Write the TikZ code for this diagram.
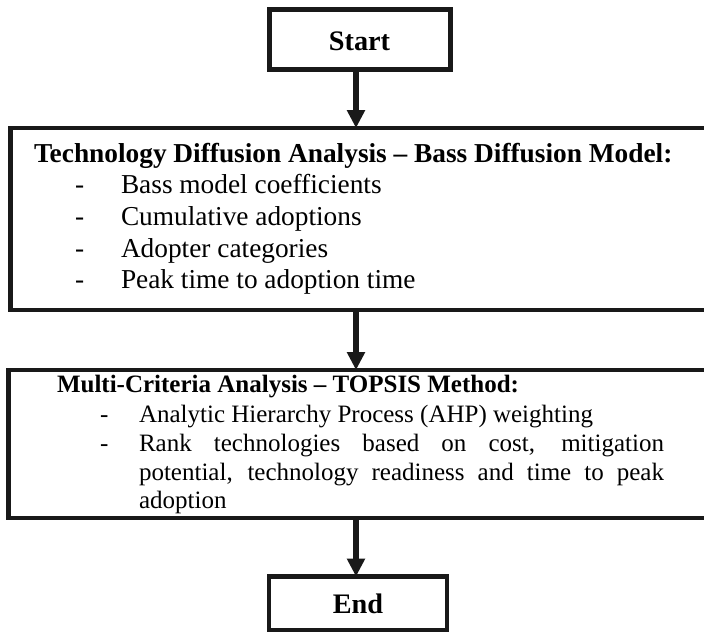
\documentclass[tikz,border=0pt]{standalone}
\usepackage{fontspec}
\setmainfont{Liberation Serif}
\usetikzlibrary{arrows.meta}
\tikzset{
  boxline/.style={draw=black!90, line width=3.6pt, inner sep=0pt, outer sep=0pt, fill=white},
  arr/.style={draw=black!90, line width=4.2pt, -{Triangle[length=13.5pt,width=13pt]}},
  txt/.style={anchor=base west, inner sep=0pt, outer sep=0pt},
  big/.style={txt, font=\fontsize{20.5}{24}\selectfont},
  bigb/.style={txt, font=\fontsize{20.5}{24}\selectfont\bfseries},
  small/.style={txt, font=\fontsize{18.75}{22}\selectfont},
  smallb/.style={txt, font=\fontsize{18.75}{22}\selectfont\bfseries},
  termtxt/.style={anchor=base, inner sep=0pt, font=\fontsize{21.2}{25}\selectfont\bfseries}
}
\begin{document}
\begin{tikzpicture}[x=0.75pt,y=-0.75pt]
\useasboundingbox (0,0) rectangle (704,633);
\clip (0,0) rectangle (704,633);
% boxes
\node[boxline, anchor=north west, minimum width=181*0.75pt, minimum height=60*0.75pt] (start) at (269.5,9.5) {};
\node[boxline, anchor=north west, minimum width=720*0.75pt, minimum height=182*0.75pt] (b1) at (10.5,128) {};
\node[boxline, anchor=north west, minimum width=720*0.75pt, minimum height=148*0.75pt] (b2) at (8.5,370) {};
\node[boxline, anchor=north west, minimum width=178*0.75pt, minimum height=53.5*0.75pt] (end) at (269,576.5) {};
% arrow axis
\coordinate (ax) at (356,0);
\draw[arr] (start.south -| ax) -- (b1.north -| ax);
\draw[arr] (b1.south -| ax) -- (b2.north -| ax);
\draw[arr] (b2.south -| ax) -- (end.north -| ax);
% texts
\node[termtxt] (tstart) at (359.5,50) {Start};
\node[termtxt] (tend) at (358,613) {End};

\node[bigb] (t1) at (34,162) {Technology Diffusion Analysis – Bass Diffusion Model:};
\node[big] (d11) at (75,193) {-};
\node[big] (i11) at (121,193) {Bass model coefficients};
\node[big] (d12) at (75,225) {-};
\node[big] (i12) at (121,225) {Cumulative adoptions};
\node[big] (d13) at (75,257) {-};
\node[big] (i13) at (121,257) {Adopter categories};
\node[big] (d14) at (75,288) {-};
\node[big] (i14) at (121,288) {Peak time to adoption time};

\node[smallb] (t2) at (57,392) {Multi-Criteria Analysis – TOPSIS Method:};
\node[small] (d21) at (100,422) {-};
\node[small] (i21) at (139,422) {Analytic Hierarchy Process (AHP) weighting};
\node[small] (d22) at (100,451) {-};
\node[small] (i22) at (139,451) {\makebox[393.75pt][s]{Rank technologies based on cost, mitigation}};
\node[small] (i23) at (139,480) {\makebox[393.75pt][s]{potential, technology readiness and time to peak}};
\node[small] (i24) at (139,508) {adoption};
\end{tikzpicture}
\end{document}
